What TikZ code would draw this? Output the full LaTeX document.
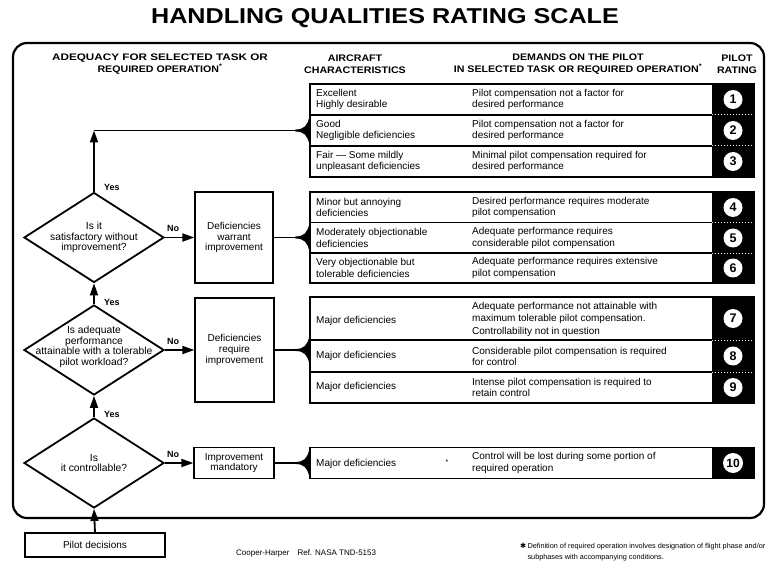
\documentclass[tikz,border=0pt]{standalone}
\usepackage{fontspec}
\setmainfont{Liberation Sans}
\newfontfamily\hdfont[FakeStretch=1.12]{Liberation Sans}
\newfontfamily\symfont{DejaVu Sans}
\usetikzlibrary{arrows.meta,shapes.geometric}
\tikzset{
  frame/.style={line width=2.2pt, rounded corners=14pt},
  box/.style={draw, line width=1.3pt, inner sep=0, align=center, font=\fontsize{10}{10.8}\selectfont},
  grp/.style={draw, line width=1.4pt, inner sep=0},
  dia/.style={draw, diamond, line width=1.8pt, minimum width=140pt, minimum height=90pt, inner sep=0},
  dtxt/.style={font=\fontsize{10.3}{10.6}\selectfont, align=center, inner sep=0},
  txt/.style={font=\fontsize{10}{11.5}\selectfont, align=left, anchor=west, inner sep=0},
  sep/.style={line width=1.2pt},
  wsep/.style={white, dotted, line width=1pt},
  arr/.style={line width=1.8pt, -{Triangle[length=12pt,width=8pt]}},
  conn/.style={line width=1.8pt},
  lbl/.style={font=\bfseries\fontsize{9}{10}\selectfont, inner sep=0},
  hdr/.style={font=\hdfont\bfseries\fontsize{9.5}{12}\selectfont, align=center, inner sep=0},
  num/.style={circle, fill=white, minimum size=19pt, inner sep=0, font=\bfseries\fontsize{12.5}{12.5}\selectfont},
  flare/.pic={\fill (-14,-1) .. controls (-5,-1) and (-2,-5) .. (0,-13.5) -- (0,13.5) .. controls (-2,5) and (-5,1) .. (-14,1) -- cycle;}
}
\begin{document}
\begin{tikzpicture}[x=1pt,y=-1pt]
\useasboundingbox (0,0) rectangle (770,561);

% title
\node[font=\bfseries\fontsize{21.5}{21.5}\selectfont, inner sep=0] (title) at (385,18) {\scalebox{1.17}[1]{HANDLING QUALITIES RATING SCALE}};

% headers
\node[hdr] (h1) at (160,64) {\scalebox{1.1}[1]{ADEQUACY FOR SELECTED TASK OR}\\REQUIRED OPERATION\textsuperscript{*}};
\node[hdr] (h2) at (355,64) {AIRCRAFT\\CHARACTERISTICS};
\node[hdr] (h3) at (578,64) {DEMANDS ON THE PILOT\\IN SELECTED TASK OR REQUIRED OPERATION\textsuperscript{*}};
\node[hdr] (h4) at (737,64) {PILOT\\RATING};

% frame
\draw[frame] (13,43) rectangle (764,518);

% ---------- group 1 ----------
\fill (712,84) rectangle (754,177);
\draw[sep] (310,115) -- (712,115);
\draw[sep] (310,146) -- (712,146);
\draw[wsep] (712,115) -- (754,115);
\draw[wsep] (712,146) -- (754,146);
\node[grp, minimum width=444pt, minimum height=93pt] (g1) at (532,130.5) {};
\node[txt] (a1) at (316,99.5) {Excellent\\Highly desirable};
\node[txt] (r1) at (472,99.5) {Pilot compensation not a factor for\\desired performance};
\node[num] (n1) at (733,99.5) {1};
\node[txt] (a2) at (316,130.5) {Good\\Negligible deficiencies};
\node[txt] (r2) at (472,130.5) {Pilot compensation not a factor for\\desired performance};
\node[num] (n2) at (733,130.5) {2};
\node[txt] (a3) at (316,161.5) {Fair --- Some mildly\\unpleasant deficiencies};
\node[txt] (r3) at (472,161.5) {Minimal pilot compensation required for\\desired performance};
\node[num] (n3) at (733,161.5) {3};

% ---------- group 2 ----------
\fill (712,192) rectangle (754,283);
\draw[sep] (310,222.5) -- (712,222.5);
\draw[sep] (310,253) -- (712,253);
\draw[wsep] (712,222.5) -- (754,222.5);
\draw[wsep] (712,253) -- (754,253);
\node[grp, minimum width=444pt, minimum height=91pt] (g2) at (532,237.5) {};
\node[txt] (a4) at (316,207.5) {Minor but annoying\\deficiencies};
\node[txt] (r4) at (472,207.5) {Desired performance requires moderate\\pilot compensation};
\node[num] (n4) at (733,207.5) {4};
\node[txt] (a5) at (316,238) {Moderately objectionable\\deficiencies};
\node[txt] (r5) at (472,238) {Adequate performance requires\\considerable pilot compensation};
\node[num] (n5) at (733,238) {5};
\node[txt] (a6) at (316,268) {Very objectionable but\\tolerable deficiencies};
\node[txt] (r6) at (472,268) {Adequate performance requires extensive\\pilot compensation};
\node[num] (n6) at (733,268) {6};

% ---------- group 3 ----------
\fill (712,297) rectangle (754,403);
\draw[sep] (310,340) -- (712,340);
\draw[sep] (310,372) -- (712,372);
\draw[wsep] (712,340) -- (754,340);
\draw[wsep] (712,372) -- (754,372);
\node[grp, minimum width=444pt, minimum height=106pt] (g3) at (532,350) {};
\node[txt] (a7) at (316,321) {Major deficiencies};
\node[txt] (r7) at (472,319.5) {Adequate performance not attainable with\\maximum tolerable pilot compensation.\\[2pt]Controllability not in question};
\node[num] (n7) at (733,318.5) {7};
\node[txt] (a8) at (316,356) {Major deficiencies};
\node[txt] (r8) at (472,356.5) {Considerable pilot compensation is required\\for control};
\node[num] (n8) at (733,356) {8};
\node[txt] (a9) at (316,387) {Major deficiencies};
\node[txt] (r9) at (472,387.5) {Intense pilot compensation is required to\\retain control};
\node[num] (n9) at (733,387.5) {9};

% ---------- group 4 ----------
\fill (712,447.5) rectangle (754,478.5);
\node[grp, minimum width=444pt, minimum height=31pt] (g4) at (532,463) {};
\node[txt] (a10) at (316,464) {Major deficiencies};
\node[font=\fontsize{7}{7}\selectfont, inner sep=0] (ast) at (447,462) {*};
\node[txt] (r10) at (472,463) {Control will be lost during some portion of\\required operation};
\node[num, font=\bfseries\fontsize{12}{12}\selectfont, minimum size=20pt] (n10) at (733,463) {10};

% ---------- flowchart ----------
\node[dia] (d1) at (94,237.5) {};
\node[dtxt] at (d1) {Is it\\satisfactory without\\improvement?};
\node[dia] (d2) at (94,350) {};
\node[dtxt] at (94,347) {Is adequate\\performance\\attainable with a tolerable\\pilot workload?};
\node[dia] (d3) at (94,463) {};
\node[dtxt] at (94,463) {Is\\it controllable?};

\node[box, minimum width=78pt, minimum height=91pt] (b1) at (234,237.5) {Deficiencies\\warrant\\improvement};
\node[box, minimum width=79pt, minimum height=104pt] (b2) at (234.5,350) {Deficiencies\\require\\improvement};
\node[box, minimum width=80pt, minimum height=31pt] (b3) at (234,463) {Improvement\\mandatory};
\node[box, minimum width=140pt, minimum height=24pt] (pd) at (95,545) {Pilot decisions};

% arrows
\draw[arr] (pd.north) -- (d3.south);
\draw[arr] (d3.north) -- (d2.south);
\draw[arr] (d2.north) -- (d1.south);
\draw[arr] (d1.north) -- (d1.north |- g1.west);
\draw[conn] (d1.north |- g1.west) -- (g1.west);
\draw[arr] (d1.east) -- (b1.west);
\draw[arr] (d2.east) -- (b2.west);
\draw[arr] (d3.east) -- (b3.west);
\draw[conn] (b1.east) -- (g2.west);
\draw[conn] (b2.east) -- (g3.west);
\draw[conn] (b3.east) -- (g4.west);
\pic at (g1.west) {flare};
\pic at (g2.west) {flare};
\pic at (g3.west) {flare};
\pic at (g4.west) {flare};

% labels
\node[lbl, anchor=west] (y1) at (104,187) {Yes};
\node[lbl, anchor=west] (y2) at (104,302) {Yes};
\node[lbl, anchor=west] (y3) at (104,414) {Yes};
\node[lbl] (no1) at (173,228) {No};
\node[lbl] (no2) at (173,341) {No};
\node[lbl] (no3) at (173,454) {No};

% footer
\node[font=\fontsize{8}{9}\selectfont, anchor=west, inner sep=0] (ref) at (236,553) {Cooper-Harper\quad Ref. NASA TND-5153};
\node[font=\fontsize{7.3}{10.5}\selectfont, anchor=north west, inner sep=0] (fn) at (520,541)
  {\begin{tabular}{@{}l@{\,}l@{}}{\symfont ✱} & Definition of required operation involves designation of flight phase and/or\\ & subphases with accompanying conditions.\end{tabular}};
\end{tikzpicture}
\end{document}
